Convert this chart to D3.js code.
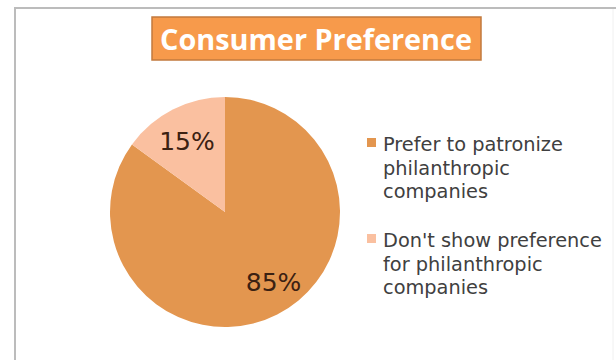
<!DOCTYPE html>
<html>
<head>
<meta charset="utf-8">
<script src="https://cdn.jsdelivr.net/npm/d3@7"></script>
<style>
  html, body { margin: 0; padding: 0; background: #fff; }
  svg { display: block; }
</style>
</head>
<body>
<svg id="chart" width="616" height="360"></svg>
<script>
const title = "Consumer Preference";
const categories = ["Prefer to patronize philanthropic companies", "Don't show preference for philanthropic companies"];
const values = [85, 15];
const valueLabels = ["85%", "15%"];
const legendLines = [["Prefer to patronize", "philanthropic", "companies"], ["Don't show preference", "for philanthropic", "companies"]];
const colors = ["#E3964F", "#FAC0A0"];

const svg = d3.select("#chart");
const font = "'DejaVu Sans', 'Noto Sans', sans-serif";
const titleFont = "'Open Sans', 'DejaVu Sans', sans-serif";

// frame
svg.append("line").attr("x1", 15).attr("x2", 15).attr("y1", 8).attr("y2", 360).attr("stroke", "#bcbcbc").attr("stroke-width", 2);
svg.append("line").attr("x1", 14).attr("x2", 616).attr("y1", 8).attr("y2", 8).attr("stroke", "#bcbcbc").attr("stroke-width", 2);
svg.append("line").attr("x1", 613).attr("x2", 613).attr("y1", 9).attr("y2", 360).attr("stroke", "#f0f0f0").attr("stroke-width", 1);

// title
svg.append("rect").attr("x", 152).attr("y", 17).attr("width", 329).attr("height", 43)
  .attr("fill", "#F79A4B").attr("stroke", "#C27A3E").attr("stroke-width", 1.5);
const t = svg.append("text").attr("x", 316).attr("y", 50).attr("text-anchor", "middle")
  .attr("fill", "#fff").attr("font-family", titleFont).attr("font-weight", "bold").attr("font-size", 28).text(title);
{
  const w = t.node().getComputedTextLength();
  t.attr("font-size", 28 * 312 / w);
}

// pie
const cx = 225, cy = 212, r = 115;
const pie = d3.pie().sort(null).value(d => d)(values);
const arc = d3.arc().innerRadius(0).outerRadius(r);
const g = svg.append("g").attr("transform", `translate(${cx},${cy})`);
g.selectAll("path").data(pie).join("path").attr("d", arc).attr("fill", (d, i) => colors[i]);

const labelRadius = [0.72, 0.69];
const labelShift = [[11, -4], [-2, 0]];
g.selectAll("text.lbl").data(pie).join("text").attr("class", "lbl")
  .attr("transform", (d, i) => {
    const a = d3.arc().innerRadius(r * labelRadius[i]).outerRadius(r * labelRadius[i]);
    const c = a.centroid(d);
    return `translate(${c[0] + labelShift[i][0]},${c[1] + labelShift[i][1]})`;
  })
  .attr("text-anchor", "middle").attr("dy", "0.35em")
  .attr("fill", "#3B2112").attr("font-family", font).attr("font-size", 25)
  .text((d, i) => valueLabels[i]);

// legend
const lx = 367, ly = [138, 234], lh = 23.5;
const leg = svg.append("g");
categories.forEach((c, i) => {
  leg.append("rect").attr("x", lx).attr("y", ly[i]).attr("width", 9).attr("height", 9).attr("fill", colors[i]);
  const tx = leg.append("text").attr("x", lx + 16).attr("y", ly[i] + 13)
    .attr("fill", "#404040").attr("font-family", font).attr("font-size", 19);
  legendLines[i].forEach((ln, j) => {
    tx.append("tspan").attr("x", lx + 16).attr("dy", j === 0 ? 0 : lh).text(ln);
  });
});
{
  const tmp = svg.append("text").attr("font-family", font).attr("font-size", 19).text(legendLines[1][0]);
  const w = tmp.node().getComputedTextLength();
  tmp.remove();
  leg.selectAll("text").attr("font-size", 19 * 219 / w);
}
</script>
</body>
</html>
